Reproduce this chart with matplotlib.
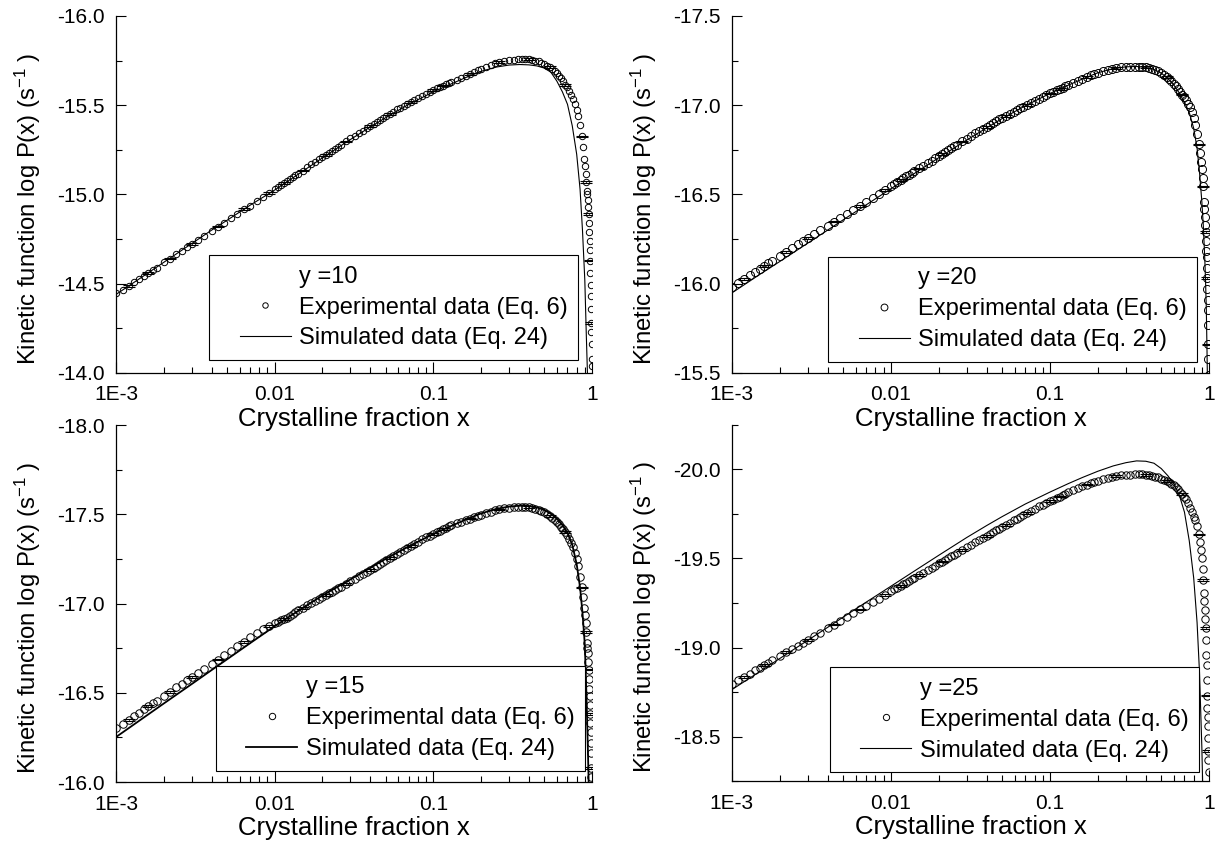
import matplotlib
matplotlib.use("Agg")
import matplotlib.pyplot as plt
import numpy as np
from matplotlib.lines import Line2D
from matplotlib.legend_handler import HandlerLine2D
from matplotlib.ticker import FormatStrFormatter, MultipleLocator, LogLocator, NullFormatter

plt.rcParams['font.family'] = ['Liberation Sans', 'DejaVu Sans']
plt.rcParams['mathtext.default'] = 'regular'
plt.rcParams['axes.unicode_minus'] = False

# crystalline fraction of the experimental points (shared by all panels)
x_exp = [0.0010, 0.0011, 0.0012, 0.0013, 0.0014, 0.0015, 0.0016, 0.0017, 0.0018, 0.0020,
         0.0022, 0.0024, 0.0026, 0.0028, 0.0030, 0.0033, 0.0036, 0.0040, 0.0044, 0.0048,
         0.0053, 0.0058, 0.0064, 0.0070, 0.0077, 0.0084, 0.0092, 0.0100,
         0.0105, 0.011, 0.0115, 0.012, 0.0125, 0.013, 0.0135, 0.014, 0.015, 0.016,
         0.017, 0.018, 0.019, 0.020, 0.021, 0.022, 0.023, 0.024, 0.025, 0.026,
         0.028, 0.030, 0.032, 0.034, 0.036, 0.038, 0.040, 0.042, 0.044, 0.046,
         0.048, 0.050, 0.053, 0.056, 0.059, 0.062, 0.065, 0.068, 0.072, 0.076,
         0.080, 0.085, 0.090, 0.095, 0.100,
         0.105, 0.11, 0.115, 0.12, 0.125, 0.13, 0.14, 0.15, 0.16, 0.17, 0.18, 0.19, 0.20,
         0.215, 0.23, 0.245, 0.26, 0.28, 0.30, 0.32, 0.34, 0.36, 0.38, 0.40, 0.42, 0.44,
         0.46, 0.48, 0.50, 0.52, 0.54, 0.56, 0.58, 0.60, 0.62, 0.64, 0.66, 0.68, 0.70,
         0.72, 0.74, 0.76, 0.78, 0.80,
         0.82, 0.84, 0.86, 0.875, 0.89, 0.90, 0.91, 0.92, 0.93, 0.935, 0.94, 0.945, 0.95,
         0.955, 0.96, 0.964, 0.968, 0.972, 0.976, 0.979, 0.982, 0.985, 0.988, 0.990, 0.992,
         0.994, 0.995, 0.996, 0.997, 0.998, 0.999, 0.9995]

exp_y10 = [-14.45, -14.466, -14.487, -14.508, -14.526, -14.543, -14.561, -14.575, -14.590, -14.619,
           -14.641, -14.665, -14.686, -14.703, -14.722, -14.745, -14.769, -14.795, -14.820, -14.841,
           -14.868, -14.889, -14.917, -14.938, -14.964, -14.984, -15.010, -15.030,
           -15.042, -15.054, -15.066, -15.077, -15.088, -15.098, -15.108, -15.117, -15.134, -15.152,
           -15.168, -15.183, -15.197, -15.210, -15.222, -15.234, -15.246, -15.257, -15.268, -15.278,
           -15.297, -15.314, -15.330, -15.345, -15.358, -15.372, -15.385, -15.397, -15.408, -15.419,
           -15.430, -15.439, -15.452, -15.464, -15.476, -15.486, -15.497, -15.507, -15.519, -15.530,
           -15.540, -15.552, -15.564, -15.575, -15.586,
           -15.594, -15.602, -15.610, -15.617, -15.624, -15.631, -15.643, -15.655, -15.666, -15.676,
           -15.686, -15.696, -15.705, -15.716, -15.726, -15.734, -15.741, -15.748, -15.753, -15.756,
           -15.758, -15.759, -15.758, -15.757, -15.754, -15.750, -15.745, -15.738, -15.730, -15.722,
           -15.713, -15.703, -15.692, -15.680, -15.666, -15.650, -15.633, -15.615, -15.600, -15.582,
           -15.560, -15.535, -15.505, -15.475,
           -15.44, -15.39, -15.325, -15.265, -15.20, -15.16, -15.115, -15.07, -15.02, -15.00,
           -14.97, -14.93, -14.89, -14.84, -14.79, -14.74, -14.69, -14.63, -14.56, -14.49,
           -14.43, -14.36, -14.28, -14.23, -14.16, -14.08, -14.04, -13.98, -13.92, -13.85,
           -13.7, -13.6]

exp_y20 = [-15.983, -16.006, -16.028, -16.048, -16.066, -16.083, -16.099, -16.114, -16.128, -16.155,
           -16.178, -16.200, -16.220, -16.238, -16.255, -16.279, -16.300, -16.325, -16.348, -16.369,
           -16.393, -16.414, -16.437, -16.459, -16.482, -16.504, -16.527, -16.547,
           -16.559, -16.570, -16.581, -16.591, -16.601, -16.611, -16.620, -16.629, -16.646, -16.661,
           -16.676, -16.690, -16.703, -16.716, -16.728, -16.739, -16.750, -16.760, -16.770, -16.779,
           -16.797, -16.813, -16.828, -16.842, -16.855, -16.867, -16.879, -16.890, -16.900, -16.910,
           -16.920, -16.929, -16.941, -16.953, -16.964, -16.974, -16.983, -16.992, -17.003, -17.013,
           -17.024, -17.035, -17.046, -17.056, -17.066,
           -17.075, -17.084, -17.092, -17.099, -17.107, -17.114, -17.127, -17.138, -17.149, -17.158,
           -17.167, -17.175, -17.183, -17.191, -17.198, -17.204, -17.208, -17.212, -17.214, -17.215,
           -17.216, -17.216, -17.215, -17.213, -17.209, -17.204, -17.198, -17.190, -17.181, -17.170,
           -17.158, -17.145, -17.133, -17.120, -17.105, -17.090, -17.075, -17.060, -17.045, -17.028,
           -17.009, -16.988, -16.962, -16.93,
           -16.89, -16.84, -16.78, -16.735, -16.68, -16.64, -16.595, -16.545, -16.46, -16.42,
           -16.375, -16.33, -16.29, -16.24, -16.185, -16.15, -16.09, -16.03, -15.97, -15.91,
           -15.85, -15.77, -15.66, -15.58, -15.49, -15.38, -15.33, -15.25, -15.18, -15.1,
           -14.9, -14.8]

exp_y15 = [-16.30, -16.325, -16.348, -16.369, -16.389, -16.407, -16.424, -16.440, -16.455, -16.482,
           -16.505, -16.530, -16.550, -16.569, -16.587, -16.612, -16.634, -16.662, -16.686, -16.709,
           -16.736, -16.760, -16.786, -16.810, -16.834, -16.855, -16.876, -16.893,
           -16.898, -16.905, -16.912, -16.921, -16.932, -16.944, -16.953, -16.962, -16.977, -16.990,
           -17.002, -17.014, -17.026, -17.037, -17.047, -17.057, -17.067, -17.076, -17.085, -17.093,
           -17.109, -17.125, -17.139, -17.152, -17.165, -17.176, -17.187, -17.198, -17.209, -17.220,
           -17.231, -17.241, -17.254, -17.267, -17.280, -17.291, -17.302, -17.312, -17.324, -17.336,
           -17.346, -17.359, -17.371, -17.381, -17.390,
           -17.399, -17.408, -17.417, -17.425, -17.432, -17.438, -17.449, -17.459, -17.468, -17.476,
           -17.483, -17.491, -17.498, -17.507, -17.515, -17.522, -17.527, -17.533, -17.536, -17.538,
           -17.539, -17.540, -17.540, -17.539, -17.535, -17.530, -17.525, -17.518, -17.510, -17.500,
           -17.490, -17.480, -17.469, -17.458, -17.445, -17.430, -17.415, -17.400, -17.382, -17.362,
           -17.340, -17.315, -17.285, -17.25,
           -17.21, -17.15, -17.09, -17.035, -16.975, -16.935, -16.89, -16.84, -16.78, -16.75,
           -16.72, -16.675, -16.63, -16.575, -16.52, -16.48, -16.43, -16.38, -16.33, -16.28,
           -16.22, -16.16, -16.08, -16.03, -15.95, -15.87, -15.83, -15.76, -15.69, -15.6,
           -15.4, -15.3]

exp_y25 = [-18.795, -18.816, -18.836, -18.854, -18.871, -18.887, -18.901, -18.915, -18.928, -18.952,
           -18.973, -18.993, -19.011, -19.027, -19.043, -19.065, -19.084, -19.108, -19.129, -19.149,
           -19.171, -19.192, -19.214, -19.234, -19.256, -19.275, -19.296, -19.315,
           -19.326, -19.336, -19.346, -19.356, -19.365, -19.374, -19.383, -19.391, -19.407, -19.421,
           -19.435, -19.448, -19.460, -19.472, -19.483, -19.493, -19.503, -19.513, -19.522, -19.531,
           -19.548, -19.563, -19.578, -19.591, -19.604, -19.616, -19.628, -19.639, -19.649, -19.659,
           -19.668, -19.677, -19.690, -19.702, -19.714, -19.724, -19.735, -19.745, -19.757, -19.769,
           -19.780, -19.792, -19.803, -19.813, -19.822,
           -19.831, -19.840, -19.848, -19.856, -19.864, -19.872, -19.885, -19.896, -19.906, -19.915,
           -19.923, -19.930, -19.937, -19.945, -19.951, -19.957, -19.962, -19.967, -19.970, -19.971,
           -19.972, -19.973, -19.972, -19.970, -19.967, -19.964, -19.960, -19.955, -19.949, -19.943,
           -19.936, -19.928, -19.919, -19.910, -19.899, -19.888, -19.876, -19.862, -19.848, -19.833,
           -19.810, -19.785, -19.760, -19.735,
           -19.715, -19.68, -19.635, -19.595, -19.545, -19.50, -19.44, -19.38, -19.305, -19.26,
           -19.21, -19.16, -19.11, -19.04, -18.96, -18.90, -18.82, -18.73, -18.66, -18.61,
           -18.56, -18.49, -18.42, -18.37, -18.30, -18.22, -18.18, -18.12, -18.05, -17.95,
           -17.8, -17.7]

# simulated curves (Eq. 24)
x_sim = [0.001, 0.0015, 0.002, 0.003, 0.004, 0.005, 0.007, 0.01, 0.015, 0.02, 0.03, 0.04, 0.05,
         0.07, 0.1, 0.13, 0.16, 0.2, 0.25, 0.3, 0.35, 0.4, 0.45, 0.5, 0.55, 0.6, 0.65, 0.7, 0.75,
         0.8, 0.84, 0.87, 0.9, 0.92, 0.94, 0.95, 0.96, 0.97, 0.98, 0.99, 0.995, 0.999]

sim_y10 = [-14.44, -14.545, -14.62, -14.725, -14.80, -14.855, -14.94, -15.025, -15.13, -15.205,
           -15.308, -15.378, -15.43, -15.505, -15.575, -15.62, -15.655, -15.69, -15.714, -15.725,
           -15.728, -15.726, -15.72, -15.708, -15.685, -15.635, -15.575, -15.505, -15.385, -15.225,
           -15.03, -14.80, -14.52, -14.21, -13.93, -13.75, -13.55, -13.3, -13.0, -12.5, -12.0, -11.0]

sim_y20 = [-15.948, -16.052, -16.124, -16.227, -16.300, -16.357, -16.442, -16.532, -16.634, -16.706,
           -16.805, -16.873, -16.925, -16.997, -17.066, -17.112, -17.147, -17.182, -17.205, -17.215,
           -17.217, -17.212, -17.200, -17.180, -17.150, -17.113, -17.068, -17.015, -16.96, -16.87,
           -16.76, -16.625, -16.46, -16.32, -16.13, -16.01, -15.86, -15.62, -15.35, -15.0, -14.7, -14.2]

sim_y15 = [-16.252, -16.362, -16.44, -16.549, -16.627, -16.687, -16.778, -16.873, -16.975, -17.045,
           -17.135, -17.20, -17.25, -17.32, -17.39, -17.435, -17.47, -17.505, -17.53, -17.543,
           -17.548, -17.546, -17.538, -17.524, -17.503, -17.475, -17.44, -17.395, -17.33, -17.22,
           -17.09, -16.95, -16.77, -16.51, -16.20, -16.03, -15.85, -15.6, -15.3, -14.9, -14.6, -14.0]

sim_y25 = [-18.763, -18.865, -18.938, -19.04, -19.113, -19.17, -19.255, -19.344, -19.446, -19.518,
           -19.618, -19.685, -19.735, -19.806, -19.873, -19.92, -19.955, -19.99, -20.02, -20.038,
           -20.048, -20.046, -20.035, -20.005, -19.965, -19.92, -19.855, -19.76, -19.60, -19.39,
           -19.14, -18.86, -18.44, -18.05, -17.7, -17.5, -17.3, -17.0, -16.7, -16.2, -15.8, -15.0]

# points that carry an error bar
err_idx = (list(range(2, 28, 4)) + list(range(30, 73, 6)) +
           list(range(75, 117, 7)) + list(range(119, 149, 5)))


class ShortLineHandler(HandlerLine2D):
    # legend line drawn on the right part of the handle box only
    def get_xdata(self, legend, xdescent, ydescent, width, height, fontsize):
        x0 = -xdescent + 0.28 * width
        x1 = -xdescent + width
        return np.array([x0, x1]), np.array([(x0 + x1) / 2])


panels = [
    # label, exp, sim, ylim, yticks, axes rect, legend anchor, line width, marker size
    ("y =10", exp_y10, sim_y10, (-14.0, -16.0), [-16.0, -15.5, -15.0, -14.5, -14.0],
     [0.0952, 0.5607, 0.3905, 0.4205], (0.971, 0.036), 0.8, 4.6),
    ("y =20", exp_y20, sim_y20, (-15.5, -17.5), [-17.5, -17.0, -16.5, -16.0, -15.5],
     [0.6003, 0.5607, 0.3916, 0.4205], (0.975, 0.031), 0.8, 5.8),
    ("y =15", exp_y15, sim_y15, (-16.0, -18.0), [-18.0, -17.5, -17.0, -16.5, -16.0],
     [0.0952, 0.0789, 0.3905, 0.4205], (0.985, 0.031), 1.3, 5.4),
    ("y =25", exp_y25, sim_y25, (-18.25, -20.25), [-20.0, -19.5, -19.0, -18.5],
     [0.6003, 0.0800, 0.3916, 0.4195], (0.979, 0.025), 0.8, 5.3),
]

fig = plt.figure(figsize=(12.19, 8.49), dpi=100)

for label, ye, ys, ylim, yticks, rect, anchor, lw, ms in panels:
    ax = fig.add_axes(rect)
    ax.patch.set_alpha(0)
    ax.plot(x_exp, ye, linestyle='none', marker='o', markersize=ms,
            markerfacecolor='none', markeredgecolor='k', markeredgewidth=0.7)
    ax.errorbar([x_exp[i] for i in err_idx], [ye[i] for i in err_idx], yerr=0.005,
                fmt='none', ecolor='k', elinewidth=0.5, capsize=4.5, capthick=0.8)
    ax.plot(x_sim, ys, color='k', linewidth=lw)

    ax.set_xscale('log')
    ax.set_xlim(1e-3, 1)
    ax.set_ylim(*ylim)
    ax.set_xticks([1e-3, 1e-2, 1e-1, 1])
    ax.set_xticklabels(['1E-3', '0.01', '0.1', '1'])
    ax.xaxis.set_minor_locator(LogLocator(base=10, subs=range(2, 10)))
    ax.xaxis.set_minor_formatter(NullFormatter())
    ax.set_yticks(yticks)
    ax.yaxis.set_major_formatter(FormatStrFormatter('%.1f'))
    ax.yaxis.set_minor_locator(MultipleLocator(0.25))

    for side in ('top', 'right'):
        ax.spines[side].set_visible(False)
    for side in ('left', 'bottom'):
        ax.spines[side].set_linewidth(0.9)
    ax.tick_params(which='both', direction='in', width=0.8, labelsize=15)
    ax.tick_params(axis='x', which='major', length=8, pad=9)
    ax.tick_params(axis='x', which='minor', length=4)
    ax.tick_params(axis='y', which='major', length=7, pad=8)
    ax.tick_params(axis='y', which='minor', length=4)

    ax.set_xlabel('Crystalline fraction x', fontsize=18.5, labelpad=2)
    ax.set_ylabel('Kinetic function log P(x) (s$^{-1}$ )', fontsize=17.2)
    ax.yaxis.set_label_coords(-0.153, 0.46)

    handles = [Line2D([], [], linestyle='none'),
               Line2D([], [], linestyle='none', marker='o', markersize=ms * 0.85,
                      markerfacecolor='none', markeredgecolor='k', markeredgewidth=0.7),
               Line2D([], [], color='k', linewidth=lw)]
    labels = [label, 'Experimental data (Eq. 6)', 'Simulated data (Eq. 24)']
    leg = ax.legend(handles, labels, loc='lower right', bbox_to_anchor=anchor,
                    fontsize=17, frameon=True, fancybox=False, framealpha=1,
                    edgecolor='k', handlelength=3.0, handletextpad=0.35,
                    borderpad=0.45, labelspacing=0.38, borderaxespad=0,
                    handler_map={Line2D: ShortLineHandler()})
    leg.get_frame().set_linewidth(0.8)

fig.savefig('out.png', dpi=100)
